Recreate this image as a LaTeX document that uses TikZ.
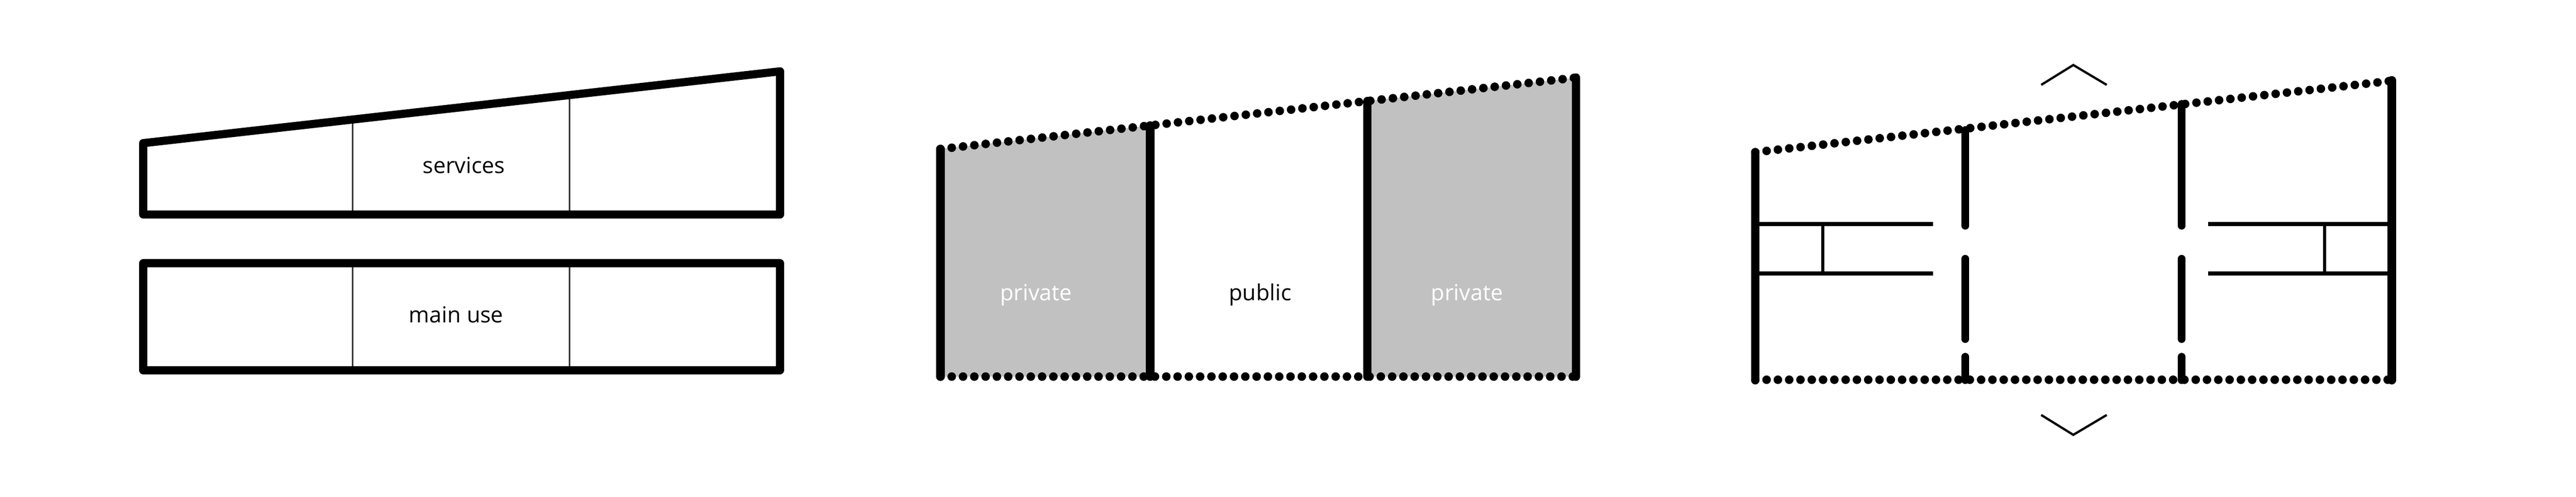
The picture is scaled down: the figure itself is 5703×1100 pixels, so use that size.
\documentclass[tikz,border=0pt]{standalone}
\usepackage{fontspec}
\setmainfont{Open Sans}
\tikzset{
  outline/.style={draw=black,line width=18pt,line join=round},
  thinline/.style={draw=black!80,line width=3.5pt},
  wall/.style={draw=black,line width=19pt,line cap=round},
  wallthin/.style={draw=black,line width=17pt,line cap=round},
  dots/.style={draw=black,line width=19pt,line cap=round,dash pattern=on 0pt off 25pt},
  dotsb/.style={draw=black,line width=19pt,line cap=round,dash pattern=on 0pt off 25.2pt},
  partition/.style={draw=black,line width=9pt},
  partthin/.style={draw=black,line width=7pt},
  chevron/.style={draw=black,line width=5pt,line join=miter},
  lbl/.style={font=\fontsize{49}{53}\selectfont,inner sep=0pt,anchor=center},
}
\begin{document}
\begin{tikzpicture}[x=1pt,y=-1pt]
\useasboundingbox[fill=white] (0,0) rectangle (5703,1100);
% panel 1
\draw[thinline] (781,266) -- (781,475) (1261,212) -- (1261,475);
\draw[thinline] (781,583) -- (781,820) (1261,583) -- (1261,820);
\draw[outline] (317,317) -- (1727,158) -- (1727,475) -- (317,475) -- cycle;
\draw[outline] (317,583) rectangle (1727,820);
\node[lbl] (services) at (1027,366) {services};
\node[lbl] (mainuse) at (1010,697) {main use};
% panel 2
\fill[black!24.5] (2082,330) -- (2546,278) -- (2546,834) -- (2082,834) -- cycle;
\fill[black!24.5] (3027,224) -- (3489,172) -- (3489,834) -- (3027,834) -- cycle;
\draw[dotsb] (2082,330) -- (3489,172);
\draw[dots] (2082,834) -- (3489,834);
\draw[wall] (2082,330) -- (2082,834);
\draw[wall] (2546,278) -- (2546,834);
\draw[wall] (3027,224) -- (3027,834);
\draw[wall] (3489,172) -- (3489,834);
\node[lbl,text=white] (priv1) at (2294,653) {private};
\node[lbl] (public) at (2790,653) {public};
\node[lbl,text=white] (priv2) at (3248,653) {private};
% panel 3
\draw[dotsb] (3886,337) -- (5295,179);
\draw[dots] (3886,841) -- (5295,841);
\draw[wall] (3886,339) -- (3886,842);
\draw[wall] (5295,178) -- (5295,842);
\draw[wallthin] (4351,288) -- (4351,500);
\draw[wallthin] (4351,573) -- (4351,751);
\draw[wallthin] (4351,790) -- (4351,842);
\draw[wallthin] (4830,230) -- (4830,500);
\draw[wallthin] (4830,573) -- (4830,751);
\draw[wallthin] (4830,790) -- (4830,842);
\draw[partition] (3886,496) -- (4279,496) (3886,606) -- (4279,606);
\draw[partition] (4888,496) -- (5295,496) (4888,606) -- (5295,606);
\draw[partthin] (4035,496) -- (4035,606);
\draw[partthin] (5146,496) -- (5146,606);
\draw[chevron] (4519,188) -- (4590,144) -- (4664,188);
\draw[chevron] (4519,919) -- (4590,963) -- (4664,919);
\end{tikzpicture}
\end{document}
